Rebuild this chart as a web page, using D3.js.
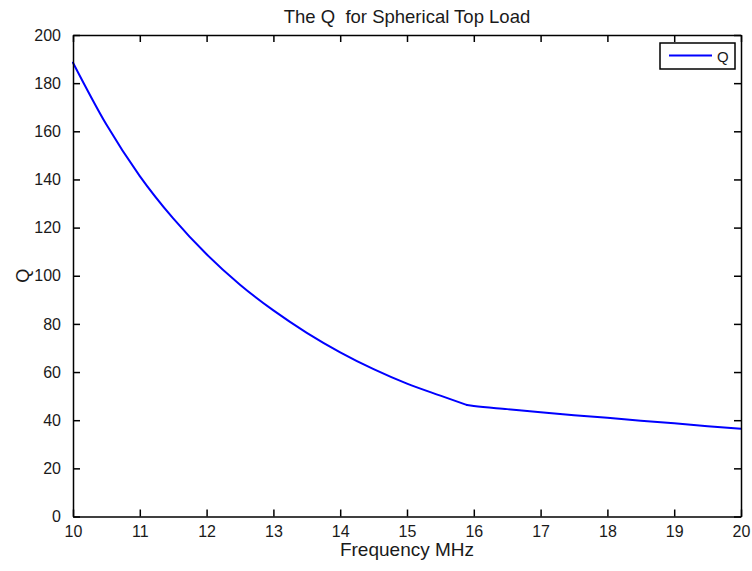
<!DOCTYPE html>
<html>
<head>
<meta charset="utf-8">
<script src="https://cdn.jsdelivr.net/npm/d3@7"></script>
<style>
  body { margin: 0; background: #fff; }
  text { font-family: "Liberation Sans", Arial, sans-serif; fill: #1a1a1a; }
</style>
</head>
<body>
<svg id="chart" width="752" height="571"></svg>
<script>
// values
var freq = [10, 10.5, 11, 11.5, 12, 12.5, 13, 13.5, 14, 14.5, 15, 15.5, 15.9, 16, 16.5, 17, 17.5, 18, 18.5, 19, 19.5, 20];
var qVals = [188.5, 162.8, 141.4, 123.8, 108.9, 96.3, 85.6, 76.3, 68.2, 61.2, 55.2, 50.2, 46.3, 45.9, 44.6, 43.3, 42.1, 41.0, 39.8, 38.7, 37.5, 36.4];
var kinkFreq = 15.9;   // where the curve changes regime
var xTicks = [10, 11, 12, 13, 14, 15, 16, 17, 18, 19, 20];
var yTicks = [0, 20, 40, 60, 80, 100, 120, 140, 160, 180, 200];
var seriesName = "Q";

var plotL = 73, plotR = 741, plotT = 35, plotB = 516.5;
var tickLen = 7;

var svg = d3.select("#chart");

var x = d3.scaleLinear().domain([10, 20]).range([plotL, plotR]);
var y = d3.scaleLinear().domain([0, 200]).range([plotB, plotT]);

var data = freq.map(function (f, i) { return {f: f, q: qVals[i]}; });
var segments = [
    data.filter(function (d) { return d.f <= kinkFreq; }),
    data.filter(function (d) { return d.f >= kinkFreq; })
];

// curve, drawn as two smooth pieces meeting at the kink
var line = d3.line()
    .x(function (d) { return x(d.f); })
    .y(function (d) { return y(d.q); })
    .curve(d3.curveMonotoneX);

svg.append("g")
    .attr("class", "series")
    .selectAll("path")
    .data(segments)
    .enter()
    .append("path")
    .attr("d", line)
    .attr("fill", "none")
    .attr("stroke", "#0000ff")
    .attr("stroke-width", 2)
    .attr("stroke-linejoin", "round")
    .attr("stroke-linecap", "round");

// axes: bottom/left with labels, top/right ticks only, all ticks inward
var ax = svg.append("g").attr("class", "axes");
ax.append("g")
    .attr("transform", "translate(0," + plotB + ")")
    .call(d3.axisBottom(x).tickValues(xTicks).tickSizeInner(-tickLen).tickSizeOuter(0).tickPadding(9));
ax.append("g")
    .attr("transform", "translate(" + plotL + ",0)")
    .call(d3.axisLeft(y).tickValues(yTicks).tickSizeInner(-tickLen).tickSizeOuter(0).tickPadding(12));
ax.append("g")
    .attr("transform", "translate(0," + plotT + ")")
    .call(d3.axisTop(x).tickValues(xTicks).tickSizeInner(-tickLen).tickSizeOuter(0).tickFormat(""));
ax.append("g")
    .attr("transform", "translate(" + plotR + ",0)")
    .call(d3.axisRight(y).tickValues(yTicks).tickSizeInner(-tickLen).tickSizeOuter(0).tickFormat(""));

ax.selectAll(".domain").attr("stroke", "#000").attr("stroke-width", 1.5);
ax.selectAll(".tick line").attr("stroke", "#000").attr("stroke-width", 1.5);
ax.selectAll(".tick text")
    .attr("font-family", "Liberation Sans, Arial, sans-serif")
    .attr("font-size", 16)
    .attr("fill", "#2a2a2a");

// title and axis labels
svg.append("text")
    .attr("x", (plotL + plotR) / 2)
    .attr("y", 22.5)
    .attr("text-anchor", "middle")
    .attr("font-size", 18.5)
    .text("The Q\u00a0 for Spherical Top Load");

svg.append("text")
    .attr("x", (plotL + plotR) / 2)
    .attr("y", 556)
    .attr("text-anchor", "middle")
    .attr("font-size", 19)
    .text("Frequency MHz");

svg.append("text")
    .attr("transform", "translate(29," + (plotT + plotB) / 2 + ") rotate(-90)")
    .attr("text-anchor", "middle")
    .attr("font-size", 18)
    .text("Q");

// legend
var lg = svg.append("g").attr("class", "legend");
lg.append("rect")
    .attr("x", 660)
    .attr("y", 43)
    .attr("width", 75)
    .attr("height", 26)
    .attr("fill", "#fff")
    .attr("stroke", "#000")
    .attr("stroke-width", 1.5);
lg.append("line")
    .attr("x1", 669)
    .attr("x2", 712)
    .attr("y1", 55.5)
    .attr("y2", 55.5)
    .attr("stroke", "#0000ff")
    .attr("stroke-width", 2);
lg.append("text")
    .attr("x", 717)
    .attr("y", 61.5)
    .attr("font-size", 15)
    .text(seriesName);
</script>
</body>
</html>
